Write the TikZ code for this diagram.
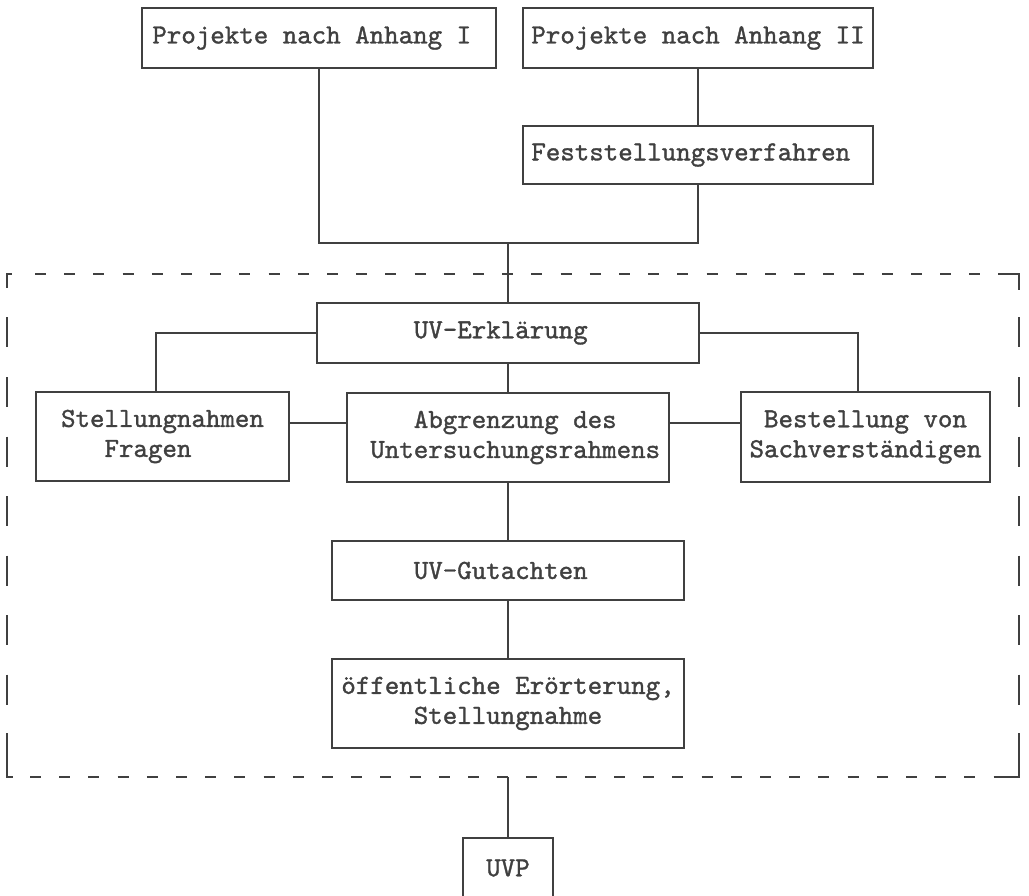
\documentclass[tikz,border=0pt]{standalone}
\usepackage{fontspec}
\setmonofont[FakeBold=1.2]{lmmono10-regular.otf}
\definecolor{ink}{RGB}{64,64,64}
\begin{document}
\begin{tikzpicture}[x=1pt,y=-1pt,
  box/.style={draw=ink, line width=2.5pt, inner sep=0pt, align=center,
    text=ink, font=\ttfamily\fontsize{27.6}{30}\selectfont},
  link/.style={draw=ink, line width=2.4pt},
  frame/.style={draw=ink, line width=2.5pt},
  hdash/.style={frame, dash pattern=on 11pt off 18.2pt},
  vdash/.style={frame, dash pattern=on 30pt off 29.5pt, dash phase=30pt}]
\clip (0,0) rectangle (1029,896);
\fill[white] (0,0) rectangle (1029,896);

% boxes
\node[box, minimum width=354pt, minimum height=60pt] (a1) at (319,38)
  {Projekte nach Anhang I\hphantom{x}};
\node[box, minimum width=350pt, minimum height=60pt] (a2) at (698,38)
  {Projekte nach Anhang II};
\node[box, minimum width=350pt, minimum height=58pt] (fest) at (698,155)
  {Feststellungsverfahren\hphantom{x}};
\node[box, minimum width=382pt, minimum height=60pt] (uve) at (508,333)
  {UV-Erklärung\hphantom{x}};
\node[box, align=left, minimum width=253pt, minimum height=89pt] (stel) at (162.5,436.5)
  {Stellungnahmen\\\hphantom{Ste}Fragen};
\node[box, minimum width=322pt, minimum height=89pt] (abgr) at (508,437.5)
  {\hphantom{x}Abgrenzung des\\\hphantom{x}Untersuchungsrahmens};
\node[box, minimum width=249pt, minimum height=90pt] (best) at (865.5,437)
  {Bestellung von\\Sachverständigen};
\node[box, minimum width=352pt, minimum height=59pt] (gut) at (508,570.5)
  {UV-Gutachten\hphantom{x}};
\node[box, minimum width=352pt, minimum height=89pt] (oeff) at (508,703.5)
  {öffentliche Erörterung,\\Stellungnahme};
\node[box, minimum width=90pt, minimum height=60pt] (uvp) at (508,868)
  {UVP};

% dashed frame: corners solid, sides dashed
\draw[frame] (7,288) -- (7,274) -- (12,274);
\draw[frame] (998,274) -- (1019,274) -- (1019,290);
\draw[frame] (7,733) -- (7,777) -- (13,777);
\draw[frame] (997,777) -- (1019,777) -- (1019,733);
\draw[hdash] (35,274) -- (998,274);
\draw[hdash] (30,777) -- (997,777);
\draw[vdash] (7,288) -- (7,733);
\draw[vdash] (1019,288) -- (1019,733);

% connectors
\coordinate (join) at (508,243);
\coordinate (fb) at (508,777);
\draw[link] (a1.south) |- (join);
\draw[link] (a2.south) -- (fest.north);
\draw[link] (fest.south) |- (join);
\draw[link] (join) -- (uve.north);
\coordinate (sl) at ([xshift=-6.5pt]stel.north);
\coordinate (br) at ([xshift=-7.5pt]best.north);
\draw[link] (uve.west) -| (sl);
\draw[link] (uve.east) -| (br);
\draw[link] (uve.south) -- (abgr.north);
\coordinate (sa) at ([yshift=13.5pt]stel.east);
\coordinate (ab) at ([yshift=14.5pt]abgr.east);
\draw[link] (sa) -- (sa -| abgr.west);
\draw[link] (ab) -- (ab -| best.west);
\draw[link] (abgr.south) -- (gut.north);
\draw[link] (gut.south) -- (oeff.north);
\draw[link] (fb) -- (uvp.north);
\end{tikzpicture}
\end{document}
